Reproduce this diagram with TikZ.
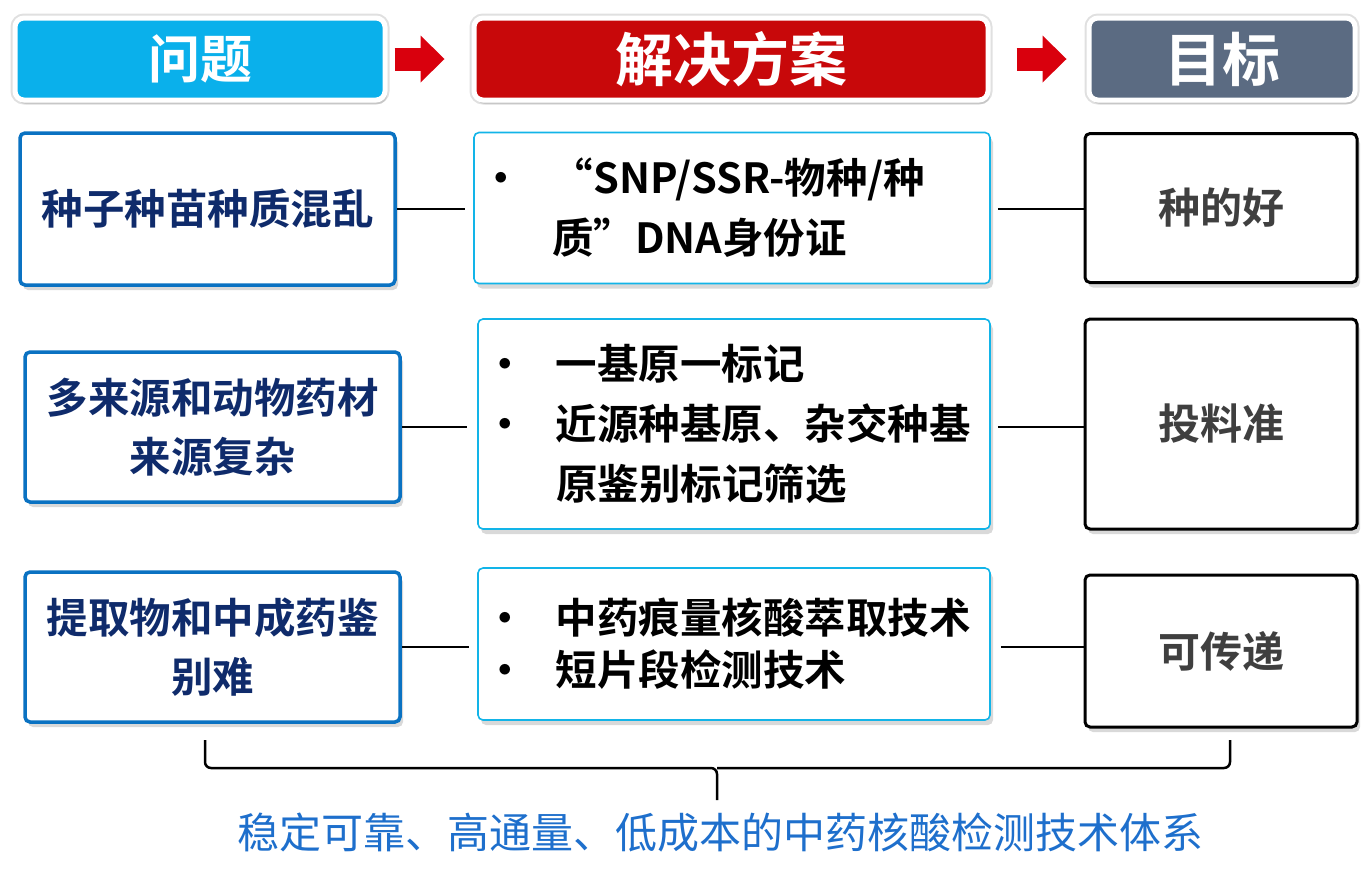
\documentclass[tikz,border=0pt]{standalone}
\usepackage{fontspec}
\setmainfont{Noto Sans CJK SC}[BoldFont={Noto Sans CJK SC Bold}]
\usetikzlibrary{shadows,arrows.meta}
\definecolor{hdblue}{HTML}{0AB0EB}
\definecolor{hdred}{HTML}{C8080A}
\definecolor{hdgray}{HTML}{5B6B82}
\definecolor{arrred}{HTML}{D9000D}
\definecolor{pbline}{HTML}{0A72C2}
\definecolor{pbtext}{HTML}{0F2B6B}
\definecolor{slline}{HTML}{12B4E8}
\definecolor{gltext}{HTML}{3F3F3F}
\definecolor{notetext}{HTML}{1E6FCC}
\newcommand{\itm}{\makebox[72pt][l]{•}}
\newcommand{\ind}{\hspace*{72pt}}
\tikzset{
	hd/.style={rounded corners=9pt,draw=white,line width=5pt,text=white,
		preaction={draw=black!12,line width=9pt},
		drop shadow={shadow xshift=2pt,shadow yshift=-4pt,opacity=0.25}},
	hdarrow/.style={draw=arrred,line width=23pt,
		-{Triangle[length=24pt,width=47pt,line width=0pt,fill=arrred]}},
	pb/.style={draw=pbline,line width=3.5pt,rounded corners=5pt,fill=white,
		text=pbtext,align=center,minimum width=375pt,
		font=\fontsize{41.5}{59}\selectfont\bfseries,
		drop shadow={shadow xshift=3pt,shadow yshift=-5pt,opacity=0.3}},
	sl/.style={draw=slline,line width=1.6pt,rounded corners=5pt,fill=white,
		align=left,inner xsep=6pt,text width=504pt,
		font=\fontsize{41.5}{60}\selectfont\bfseries,
		drop shadow={shadow xshift=3pt,shadow yshift=-5pt,opacity=0.3}},
	gl/.style={draw=black,line width=3pt,rounded corners=5pt,fill=white,
		text=gltext,minimum width=272pt,
		font=\fontsize{42}{42}\selectfont\bfseries,
		drop shadow={shadow xshift=3pt,shadow yshift=-5pt,opacity=0.3}},
	conn/.style={draw=black,line width=1.5pt},
	brace/.style={draw=black,line width=2.5pt,rounded corners=6pt}
}
\begin{document}
\begin{tikzpicture}[x=1pt,y=-1pt]
	\useasboundingbox (0,0) rectangle (1368,879);
	% tiêu đề
	\node[hd,fill=hdblue,minimum width=370pt,minimum height=82pt,font=\fontsize{52}{52}\selectfont\bfseries] (hq) at (200,59) {问题};
	\node[hd,fill=hdred,minimum width=514pt,minimum height=82pt,font=\fontsize{58}{58}\selectfont\bfseries] (hs) at (731,59) {解决方案};
	\node[hd,fill=hdgray,minimum width=266pt,minimum height=82pt,font=\fontsize{58}{58}\selectfont\bfseries] (hg) at (1222,59) {目标};
	\draw[hdarrow,shorten <=7pt,shorten >=27pt] (hq.east) -- (hs.west);
	\draw[hdarrow,shorten <=26pt,shorten >=20pt] (hs.east) -- (hg.west);
	% hàng 1
	\node[pb,minimum height=152pt] (p1) at (207.5,209) {种子种苗种质混乱};
	\node[sl,minimum height=151pt] (s1) at (732,208) {\itm“SNP/SSR-物种/种\\ \ind 质”DNA身份证};
	\node[gl,minimum height=149pt] (g1) at (1221,208) {种的好};
	% hàng 2
	\node[pb,minimum height=150pt] (p2) at (212.5,427) {多来源和动物药材\\来源复杂};
	\node[sl,minimum height=210pt,text width=500pt] (s2) at (734,424) {\itm 一基原一标记\\ \itm 近源种基原、杂交种基\\ \ind 原鉴别标记筛选};
	\node[gl,minimum height=210pt] (g2) at (1221,424) {投料准};
	% hàng 3
	\node[pb,minimum height=150pt] (p3) at (212.5,647) {提取物和中成药鉴\\别难};
	\node[sl,minimum height=152pt,text width=500pt,font=\fontsize{41.5}{52}\selectfont\bfseries] (s3) at (734,644) {\itm 中药痕量核酸萃取技术\\ \itm 短片段检测技术};
	\node[gl,minimum height=152pt] (g3) at (1221,651) {可传递};
	% đường nối
	\draw[conn,shorten >=8pt] (p1.east) -- (p1.east -| s1.west);
	\draw[conn,shorten <=7pt] (p1.east -| s1.east) -- (p1.east -| g1.west);
	\draw[conn,shorten >=10pt] (p2.east) -- (p2.east -| s2.west);
	\draw[conn,shorten <=7pt] (p2.east -| s2.east) -- (p2.east -| g2.west);
	\draw[conn,shorten >=8pt] (p3.east) -- (p3.east -| s3.west);
	\draw[conn,shorten <=10pt] (p3.east -| s3.east) -- (p3.east -| g3.west);
	% ngoặc dưới
	\coordinate (bl) at (205,740);
	\coordinate (br) at (1230,740);
	\coordinate (bm) at (717,800);
	\draw[brace] (bl) -- (bl |- 0,768) -- (bm |- 0,768) -- (bm);
	\draw[brace] (br) -- (br |- 0,768) -- (bm |- 0,768);
	\node[text=notetext,font=\fontsize{42}{42}\selectfont] (note) at (720,833) {稳定可靠、高通量、低成本的中药核酸检测技术体系};
\end{tikzpicture}
\end{document}
